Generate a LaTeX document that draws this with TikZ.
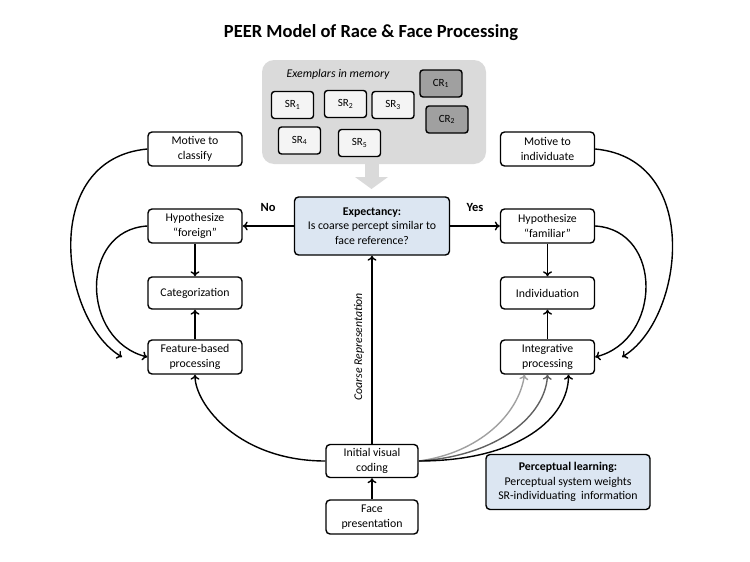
\documentclass[tikz,border=0pt]{standalone}
\usepackage{fontspec}
\setmainfont{Carlito}
\usetikzlibrary{arrows.meta}
\definecolor{boxblue}{HTML}{DCE6F2}
\definecolor{memgray}{HTML}{DADADA}
\definecolor{crgray}{HTML}{A0A0A0}
\definecolor{srfill}{HTML}{F4F4F4}
\definecolor{lightlink}{HTML}{A0A0A0}
\definecolor{midlink}{HTML}{606060}
\begin{document}
\begin{tikzpicture}[x=1pt,y=-1pt,
	box/.style={draw,line width=1.4pt,rounded corners=4pt,align=center,minimum width=94pt,minimum height=34pt,inner sep=1pt,font=\fontsize{11.8pt}{14.5pt}\selectfont},
	bluebox/.style={box,fill=boxblue},
	exbox/.style={draw,line width=1.4pt,rounded corners=3pt,minimum width=42pt,minimum height=27pt,inner sep=0pt,font=\fontsize{11pt}{13pt}\selectfont},
	link/.style={-{To[length=5pt,width=9pt]},line width=1.4pt}]
	\useasboundingbox (0,0) rectangle (750,562);
	%title
		\node[font=\fontsize{18.5pt}{20pt}\selectfont\bfseries] (title) at (371,33) {PEER Model of Race \& Face Processing};
	%exemplars in memory
		\fill[memgray,rounded corners=12pt] (262,60) rectangle (486,164);
		\fill[memgray] (365,163) rectangle (379,177);
		\fill[memgray] (355,177) -- (388,177) -- (371.5,189) -- cycle;
		\node[font=\fontsize{11.8pt}{14pt}\selectfont\itshape] (memlabel) at (338,74) {Exemplars in memory};
		\node[exbox,fill=srfill] (sra) at (292.5,105) {SR\textsubscript{1}};
		\node[exbox,fill=srfill] (srb) at (345.5,104) {SR\textsubscript{2}};
		\node[exbox,fill=srfill] (src) at (393,105) {SR\textsubscript{3}};
		\node[exbox,fill=srfill] (srd) at (299.5,140.5) {SR\textsubscript{4}};
		\node[exbox,fill=srfill] (sre) at (359.5,143) {SR\textsubscript{5}};
		\node[exbox,fill=crgray] (cra) at (441,83.5) {CR\textsubscript{1}};
		\node[exbox,fill=crgray] (crb) at (447,119.5) {CR\textsubscript{2}};
	%left column
		\node[box] (motclass) at (195,149) {Motive to\\classify};
		\node[box] (hypfor) at (195,226) {Hypothesize\\``foreign''};
		\node[box,minimum height=32pt] (categ) at (195,293) {Categorization};
		\node[box] (feat) at (195,357) {Feature-based\\processing};
	%right column
		\node[box] (motind) at (547.5,149) {Motive to\\individuate};
		\node[box] (hypfam) at (547.5,226) {Hypothesize\\``familiar''};
		\node[box,minimum height=32pt] (indiv) at (547.5,293) {Individuation};
		\node[box] (integ) at (547.5,357) {Integrative\\processing};
	%middle
		\node[bluebox,minimum width=155pt,minimum height=58pt] (expect) at (372,226) {\textbf{Expectancy:}\\Is coarse percept similar to\\face reference?};
		\node[box,minimum width=92pt,minimum height=33pt] (initial) at (372,461) {Initial visual\\coding};
		\node[box,minimum width=92pt,minimum height=34pt] (face) at (372,517) {Face\\presentation};
		\node[bluebox,minimum width=164pt,minimum height=55pt] (learn) at (568,482) {\textbf{Perceptual learning:}\\Perceptual system weights\\SR-individuating\ \ information};
	%yes / no
		\draw[link] (expect.west) -- (hypfor.east);
		\draw[link] (expect.east) -- (hypfam.east -| hypfam.west);
		\node[font=\fontsize{12.5pt}{14pt}\selectfont\bfseries] (no) at (268,207) {No};
		\node[font=\fontsize{12.5pt}{14pt}\selectfont\bfseries] (yes) at (475,207) {Yes};
	%columns
		\draw[link] (hypfor) -- (categ);
		\draw[link] (feat) -- (categ);
		\draw[link] (hypfam) -- (indiv);
		\draw[link] (integ) -- (indiv);
	%coarse representation
		\draw[link] (initial) -- (expect);
		\node[rotate=90,font=\fontsize{11.8pt}{14pt}\selectfont\itshape] (coarse) at (359,347) {Coarse Representation};
		\draw[link] (face) -- (initial);
	%motives
		\coordinate (lfree) at (122,357);
		\coordinate (rfree) at (622,357);
		\draw[link] (motclass.west) .. controls +(-108,10) and +(-62,-37) .. (lfree);
		\draw[link] (hypfor.west) .. controls +(-68,4) and +(-67,-17) .. (feat.west);
		\draw[link] (motind.east) .. controls +(108,10) and +(62,-37) .. (rfree);
		\draw[link] (hypfam.east) .. controls +(68,4) and +(67,-17) .. (integ.east);
	%from initial coding
		\coordinate (inta) at ([xshift=-23pt]integ.south);
		\coordinate (intc) at ([xshift=21pt]integ.south);
		\draw[link] (initial.west) .. controls +(-86,0) and +(0,30) .. (feat.south);
		\draw[link,lightlink] (initial.east) .. controls +(60,-8) and +(-6,40) .. (inta);
		\draw[link,midlink] (initial.east) .. controls +(80,-5) and +(-2,40) .. (integ.south);
		\draw[link] (initial.east) .. controls +(102,0) and +(0,42) .. (intc);
\end{tikzpicture}
\end{document}
